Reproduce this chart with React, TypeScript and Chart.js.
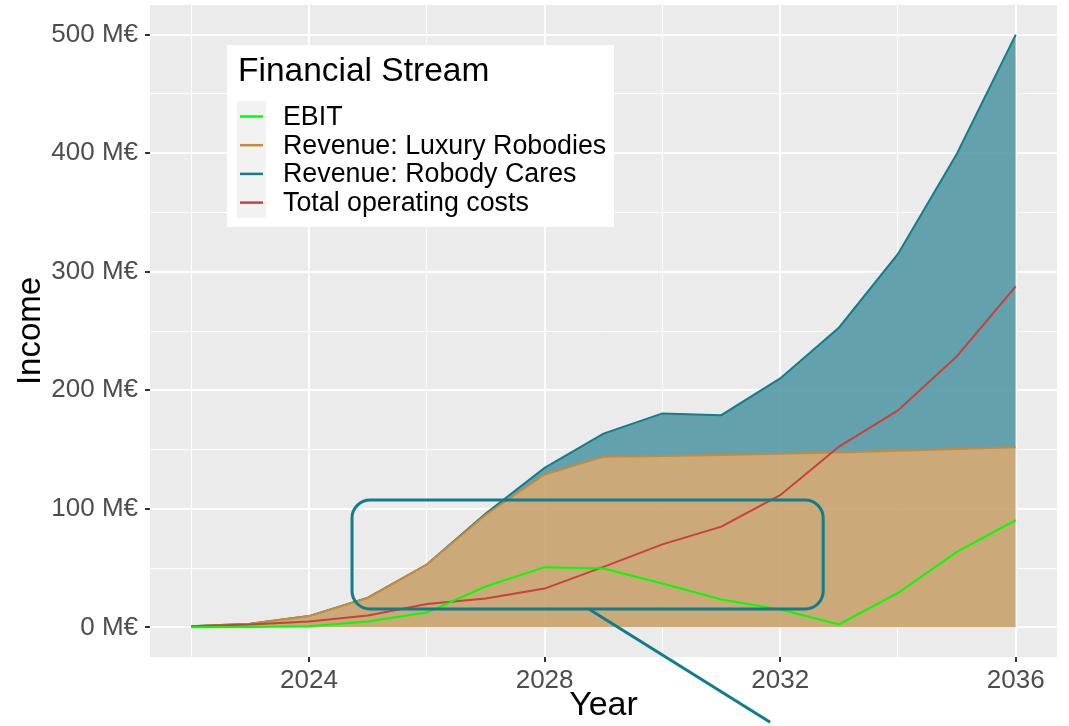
import React, { useEffect, useRef } from 'react';
import { Chart, registerables } from 'chart.js';

Chart.register(...registerables);

const FONT = "'Liberation Sans', Arial, Helvetica, sans-serif";

// ---- data ----
const YEARS = [2022, 2023, 2024, 2025, 2026, 2027, 2028, 2029, 2030, 2031, 2032, 2033, 2034, 2035, 2036];
const REV_LUXURY = [1, 3, 9.5, 25, 53, 95, 129, 144, 144.5, 145.5, 146.5, 147.5, 149, 150.5, 152];
const REV_CARES = [0, 0, 0, 0, 0, 1, 5.5, 19.5, 36, 33.5, 63.5, 105.5, 166, 249, 348];
const EBIT = [0, 0.3, 1, 5, 12.5, 34.5, 50.8, 49.6, 37, 23.5, 15, 2.5, 29, 63.7, 90.5];
const COSTS = [1, 2.5, 5, 10, 19.7, 24.3, 32.7, 51, 70, 85, 111.5, 152.5, 183, 228.7, 287.6];

const X_TICKS = [2022, 2024, 2026, 2028, 2030, 2032, 2034, 2036];
const X_MAJOR = [2024, 2028, 2032, 2036];
const Y_TICKS = [0, 50, 100, 150, 200, 250, 300, 350, 400, 450, 500];
const Y_MAJOR = [0, 100, 200, 300, 400, 500];

const LEGEND_TITLE = 'Financial Stream';
const SERIES_NAMES = ['EBIT', 'Revenue: Luxury Robodies', 'Revenue: Robody Cares', 'Total operating costs'];
const SERIES_COLORS = ['#00FF00', '#C48A3E', '#137D8B', '#C8413C'];

// annotation (data coordinates)
const ANNOT_BOX = { x0: 2024.73, x1: 2032.73, y0: 15.5, y1: 107.4 };
const ANNOT_LINE = { x0: 2028.75, y0: 15.5, x1: 2031.83, y1: -80 };

const pts = (arr: number[]) => YEARS.map((x, i) => ({ x, y: arr[i] }));

const bgPlugin = {
  id: 'ggBackground',
  beforeDraw(chart: any) {
    const { ctx, chartArea: a } = chart;
    ctx.save();
    ctx.fillStyle = '#FFFFFF';
    ctx.fillRect(0, 0, chart.width, chart.height);
    ctx.fillStyle = '#EBEBEB';
    ctx.fillRect(a.left, a.top, a.right - a.left, a.bottom - a.top);
    ctx.restore();
  },
};

const overlayPlugin = {
  id: 'ggOverlay',
  afterDraw(chart: any) {
    const { ctx, scales } = chart;
    const xs = scales.x;
    const ys = scales.y;
    ctx.save();
    // annotation
    ctx.strokeStyle = '#117D8A';
    ctx.lineWidth = 3;
    const bx0 = xs.getPixelForValue(ANNOT_BOX.x0);
    const bx1 = xs.getPixelForValue(ANNOT_BOX.x1);
    const by0 = ys.getPixelForValue(ANNOT_BOX.y1);
    const by1 = ys.getPixelForValue(ANNOT_BOX.y0);
    ctx.beginPath();
    ctx.roundRect(bx0, by0, bx1 - bx0, by1 - by0, 18);
    ctx.stroke();
    ctx.beginPath();
    ctx.moveTo(xs.getPixelForValue(ANNOT_LINE.x0), ys.getPixelForValue(ANNOT_LINE.y0));
    ctx.lineTo(xs.getPixelForValue(ANNOT_LINE.x1), ys.getPixelForValue(ANNOT_LINE.y1));
    ctx.stroke();

    // legend
    ctx.fillStyle = '#FFFFFF';
    ctx.fillRect(227, 45, 387, 182);
    ctx.fillStyle = '#F2F2F2';
    ctx.fillRect(237, 101, 29, 117);
    ctx.fillStyle = '#000000';
    ctx.font = `33.5px ${FONT}`;
    ctx.textBaseline = 'alphabetic';
    ctx.textAlign = 'left';
    ctx.fillText(LEGEND_TITLE, 238, 81);
    SERIES_NAMES.forEach((name, i) => {
      const y = 116.5 + i * 28.7;
      ctx.strokeStyle = SERIES_COLORS[i];
      ctx.lineWidth = 2.5;
      ctx.beginPath();
      ctx.moveTo(240, y);
      ctx.lineTo(263, y);
      ctx.stroke();
      ctx.font = `26.8px ${FONT}`;
      ctx.textBaseline = 'middle';
      ctx.fillStyle = '#000000';
      ctx.fillText(name, 283, y + 1);
    });
    ctx.restore();
  },
};

export default function App() {
  const ref = useRef<HTMLCanvasElement>(null);
  useEffect(() => {
    Chart.defaults.font.family = FONT;
    const chart = new Chart(ref.current as HTMLCanvasElement, {
      type: 'line',
      data: {
        datasets: [
          {
            label: SERIES_NAMES[0],
            data: pts(EBIT),
            borderColor: SERIES_COLORS[0],
            borderWidth: 2,
            pointRadius: 0,
            fill: false,
            stack: 'ebit',
            tension: 0,
          },
          {
            label: SERIES_NAMES[3],
            data: pts(COSTS),
            borderColor: SERIES_COLORS[3],
            borderWidth: 2,
            pointRadius: 0,
            fill: false,
            stack: 'costs',
            tension: 0,
          },
          {
            label: SERIES_NAMES[1],
            data: pts(REV_LUXURY),
            borderColor: SERIES_COLORS[1],
            backgroundColor: 'rgba(197,159,103,0.87)',
            borderWidth: 2,
            pointRadius: 0,
            fill: 'origin',
            stack: 'rev',
            tension: 0,
          },
          {
            label: SERIES_NAMES[2],
            data: pts(REV_CARES),
            borderColor: SERIES_COLORS[2],
            backgroundColor: 'rgba(78,150,162,0.87)',
            borderWidth: 2,
            pointRadius: 0,
            fill: '-1',
            stack: 'rev',
            tension: 0,
          },
        ],
      } as any,
      options: {
        responsive: false,
        animation: false,
        devicePixelRatio: 1,
        layout: { padding: { top: 5, right: 12, left: 0, bottom: 0 } },
        plugins: { legend: { display: false }, tooltip: { enabled: false } },
        scales: {
          x: {
            type: 'linear',
            min: 2021.3,
            max: 2036.7,
            afterBuildTicks: (s: any) => {
              s.ticks = X_TICKS.map((v) => ({ value: v }));
            },
            afterFit: (s: any) => {
              s.height = 69;
              s.paddingLeft = 0;
              s.paddingRight = 0;
            },
            grid: {
              color: '#FFFFFF',
              lineWidth: (c: any) => (c.tick && X_MAJOR.includes(c.tick.value) ? 2 : 1),
              tickColor: (c: any) => (c.tick && X_MAJOR.includes(c.tick.value) ? '#333333' : 'rgba(0,0,0,0)'),
              tickWidth: 2,
              tickLength: 5,
            },
            border: { display: false },
            ticks: {
              autoSkip: false,
              maxRotation: 0,
              padding: 3,
              color: '#4D4D4D',
              font: { size: 26 },
              callback: (v: any) => (X_MAJOR.includes(Number(v)) ? String(v) : ''),
            },
            title: {
              display: true,
              text: 'Year',
              color: '#000000',
              font: { size: 34 },
              padding: { top: 0, bottom: 0 },
            },
          },
          y: {
            type: 'linear',
            stacked: true,
            min: -25,
            max: 525,
            afterBuildTicks: (s: any) => {
              s.ticks = Y_TICKS.map((v) => ({ value: v }));
            },
            afterFit: (s: any) => {
              s.width = 150;
              s.paddingTop = 0;
              s.paddingBottom = 0;
            },
            grid: {
              color: '#FFFFFF',
              lineWidth: (c: any) => (c.tick && Y_MAJOR.includes(c.tick.value) ? 2 : 1),
              tickColor: (c: any) => (c.tick && Y_MAJOR.includes(c.tick.value) ? '#333333' : 'rgba(0,0,0,0)'),
              tickWidth: 2,
              tickLength: 5,
            },
            border: { display: false },
            ticks: {
              autoSkip: false,
              padding: 7,
              color: '#4D4D4D',
              font: { size: 26 },
              callback: (v: any) => (Y_MAJOR.includes(Number(v)) ? `${v} M€` : ''),
            },
            title: {
              display: true,
              text: 'Income',
              color: '#000000',
              font: { size: 33 },
              padding: { top: 11, bottom: 0 },
            },
          },
        },
      } as any,
      plugins: [bgPlugin, overlayPlugin],
    });
    return () => chart.destroy();
  }, []);
  return (
    <div style={{ position: 'fixed', left: 0, top: 0, width: 1069, height: 726 }}>
      <canvas ref={ref} width={1069} height={726} style={{ display: 'block', width: 1069, height: 726 }} />
    </div>
  );
}
